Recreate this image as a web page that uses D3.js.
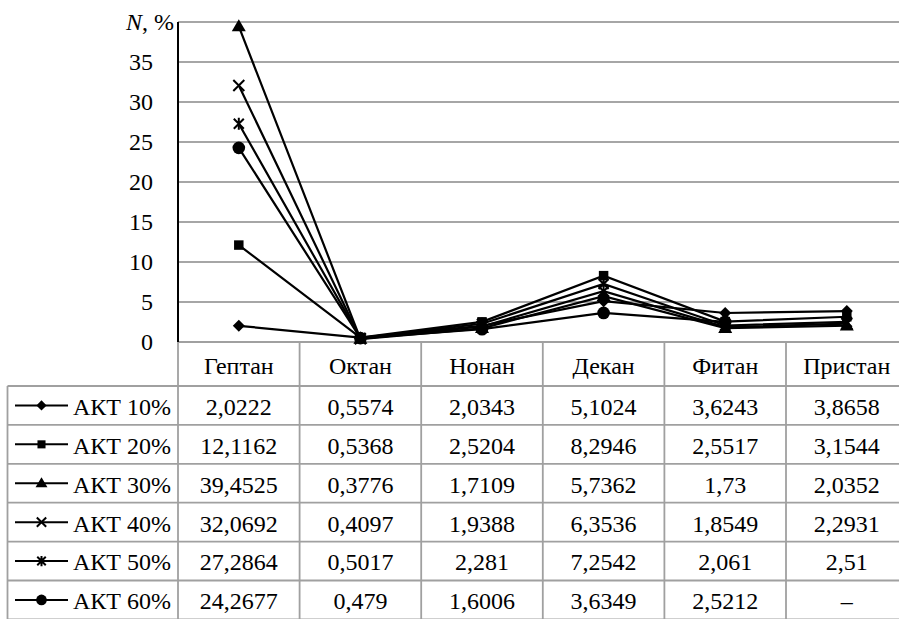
<!DOCTYPE html>
<html><head><meta charset="utf-8">
<script src="https://cdn.jsdelivr.net/npm/d3@7/dist/d3.min.js"></script>
<style>body{margin:0;background:#fff;} svg{display:block;}</style>
</head><body>
<svg id="c" width="899" height="619" style="font-family:'Liberation Serif','Tinos','Times New Roman','Noto Serif','DejaVu Serif',serif"></svg>
<script>
const categories = ["Гептан","Октан","Нонан","Декан","Фитан","Пристан"];
const seriesNames = ["АКТ 10%","АКТ 20%","АКТ 30%","АКТ 40%","АКТ 50%","АКТ 60%"];
const s10 = [2.0222,0.5574,2.0343,5.1024,3.6243,3.8658];
const s20 = [12.1162,0.5368,2.5204,8.2946,2.5517,3.1544];
const s30 = [39.4525,0.3776,1.7109,5.7362,1.73,2.0352];
const s40 = [32.0692,0.4097,1.9388,6.3536,1.8549,2.2931];
const s50 = [27.2864,0.5017,2.281,7.2542,2.061,2.51];
const s60 = [24.2677,0.479,1.6006,3.6349,2.5212,null];
const labels10 = ["2,0222","0,5574","2,0343","5,1024","3,6243","3,8658"];
const labels20 = ["12,1162","0,5368","2,5204","8,2946","2,5517","3,1544"];
const labels30 = ["39,4525","0,3776","1,7109","5,7362","1,73","2,0352"];
const labels40 = ["32,0692","0,4097","1,9388","6,3536","1,8549","2,2931"];
const labels50 = ["27,2864","0,5017","2,281","7,2542","2,061","2,51"];
const labels60 = ["24,2677","0,479","1,6006","3,6349","2,5212","–"];
const yTicks = [0,5,10,15,20,25,30,35];
const markers = ["diamond","square","triangle","x","star","circle"];

const series = [s10,s20,s30,s40,s50,s60];
const labels = [labels10,labels20,labels30,labels40,labels50,labels60];

const svg = d3.select("#c");
const FS = 24;
const plotLeft = 178, plotTop = 22, plotBottom = 342, colW = 121.6;
const legendLeft = 7.5;
const headerH = 44, rowH = 38.9;

const x = d3.scaleBand().domain(categories).range([plotLeft, plotLeft + colW*categories.length]).padding(0);
const y = d3.scaleLinear().domain([0,40]).range([plotBottom, plotTop]);
const cx = c => x(c) + x.bandwidth()/2;

svg.append("g").selectAll("line").data([5,10,15,20,25,30,35,40]).join("line")
  .attr("x1", plotLeft).attr("x2", 920).attr("y1", d=>y(d)).attr("y2", d=>y(d))
  .attr("stroke", "#a6a6a6").attr("stroke-width", 1.8);

svg.append("g").selectAll("text").data(yTicks).join("text")
  .attr("x", 153).attr("y", d=>y(d)).attr("dy","0.35em").attr("text-anchor","end")
  .attr("font-size", FS).text(d=>d);

const t = svg.append("text").attr("x", 174).attr("y", y(40)).attr("dy","0.35em")
  .attr("text-anchor","end").attr("font-size", FS);
t.append("tspan").attr("font-style","italic").text("N");
t.append("tspan").text(", %");

const tbl = svg.append("g").attr("stroke","#a0a0a0").attr("stroke-width",1.8);
const nRows = seriesNames.length;
const tableBottom = plotBottom + headerH + rowH*nRows;
tbl.append("line").attr("x1", plotLeft).attr("x2", 920).attr("y1", plotBottom).attr("y2", plotBottom);
for (let i=0;i<=nRows;i++){
  const yy = plotBottom + headerH + rowH*i;
  tbl.append("line").attr("x1", legendLeft).attr("x2", 920).attr("y1", yy).attr("y2", yy);
}
tbl.append("line").attr("x1", legendLeft).attr("x2", legendLeft).attr("y1", plotBottom+headerH).attr("y2", tableBottom);
categories.forEach(c => {
  tbl.append("line").attr("x1", x(c)).attr("x2", x(c)).attr("y1", plotBottom).attr("y2", tableBottom);
});
tbl.append("line").attr("x1", x.range()[1]).attr("x2", x.range()[1]).attr("y1", plotBottom).attr("y2", tableBottom);

svg.append("line").attr("x1", plotLeft).attr("x2", plotLeft).attr("y1", plotTop).attr("y2", plotBottom)
  .attr("stroke","#000").attr("stroke-width",2);

svg.append("g").selectAll("text").data(categories).join("text")
  .attr("x", d=>cx(d)).attr("y", plotBottom + headerH/2 + 2).attr("dy","0.35em")
  .attr("text-anchor","middle").attr("font-size", FS).text(d=>d);

labels.forEach((row, i) => {
  svg.append("g").selectAll("text").data(row).join("text")
    .attr("x", (d,j)=>cx(categories[j])).attr("y", plotBottom + headerH + rowH*i + rowH/2 + 1).attr("dy","0.35em")
    .attr("text-anchor","middle").attr("font-size", FS).text(d=>d);
});

function drawMarker(g, type, px, py, k) {
  k = k || 1;
  const s = g.append("g").attr("transform", `translate(${px},${py})`);
  if (type === "diamond") {
    const r = 6*k;
    s.append("path").attr("d", `M0,${-r}L${r},0L0,${r}L${-r},0Z`).attr("fill","#000");
  } else if (type === "square") {
    s.append("path").attr("d", d3.symbol().type(d3.symbolSquare).size(90*k*k)()).attr("fill","#000");
  } else if (type === "triangle") {
    const w = 7*k, h = 12*k;
    s.append("path").attr("d", `M0,${-h*0.6}L${w},${h*0.4}L${-w},${h*0.4}Z`).attr("fill","#000");
  } else if (type === "x") {
    const r = 5.5*k;
    s.append("path").attr("d", `M${-r},${-r}L${r},${r}M${-r},${r}L${r},${-r}`).attr("stroke","#000").attr("stroke-width",2).attr("fill","none");
  } else if (type === "star") {
    const r = 5*k;
    s.append("path").attr("d", `M${-r},${-r}L${r},${r}M${-r},${r}L${r},${-r}M0,${-r*1.2}L0,${r*1.2}`).attr("stroke","#000").attr("stroke-width",2).attr("fill","none");
  } else if (type === "circle") {
    s.append("circle").attr("r", 6.3*k).attr("fill","#000");
  }
}

const line = d3.line().defined(d => d.v != null).x(d => cx(d.c)).y(d => y(d.v));
series.forEach((vals, i) => {
  const pts = categories.map((c,j) => ({c, v: vals[j]}));
  svg.append("path").datum(pts).attr("d", line).attr("fill","none").attr("stroke","#000").attr("stroke-width",2.2);
  const g = svg.append("g");
  pts.filter(p=>p.v!=null).forEach(p => drawMarker(g, markers[i], cx(p.c), y(p.v)));
});

seriesNames.forEach((name, i) => {
  const yy = plotBottom + headerH + rowH*i + rowH/2;
  svg.append("line").attr("x1", 15).attr("x2", 68).attr("y1", yy).attr("y2", yy).attr("stroke","#000").attr("stroke-width",2);
  drawMarker(svg, markers[i], 41.5, yy, 0.85);
  svg.append("text").attr("x", 73).attr("y", yy + 1).attr("dy","0.35em")
    .attr("font-size", FS).text(name);
});
</script>
</body></html>
